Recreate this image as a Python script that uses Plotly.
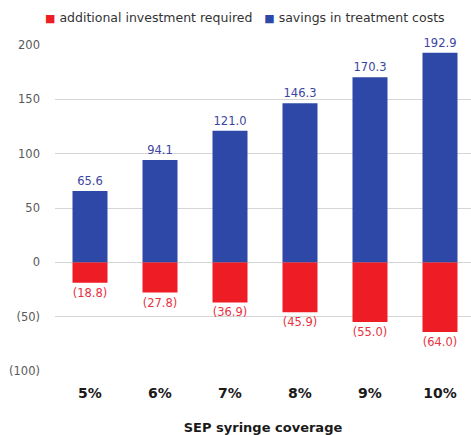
import plotly.graph_objects as go

categories = ["5%", "6%", "7%", "8%", "9%", "10%"]
investment = [-18.8, -27.8, -36.9, -45.9, -55.0, -64.0]
savings = [65.6, 94.1, 121.0, 146.3, 170.3, 192.9]
y_tickvals = [-100, -50, 0, 50, 100, 150, 200]
y_ticktext = ["(100)", "(50)", "0", "50", "100", "150", "200"]
series_names = ["additional investment required", "savings in treatment costs"]

FONT = "DejaVu Sans"
RED = "#EE1C25"
BLUE = "#2E48A8"

inv_text = ["({:.1f})".format(abs(v)) for v in investment]
sav_text = ["{:.1f}".format(v) for v in savings]

fig = go.Figure()
fig.add_trace(go.Bar(
    x=categories, y=investment, name=series_names[0],
    marker=dict(color=RED, line=dict(width=0)),
    text=inv_text, textposition="outside", cliponaxis=False,
    textfont=dict(family=FONT, size=11.5, color="#E8323F"),
))
fig.add_trace(go.Bar(
    x=categories, y=savings, name=series_names[1],
    marker=dict(color=BLUE, line=dict(width=0)),
    text=sav_text, textposition="outside", cliponaxis=False,
    textfont=dict(family=FONT, size=11.5, color="#3B45A0"),
))

legend_text = (
    "<span style='color:%s;font-size:11px'>■</span> %s   "
    "<span style='color:%s;font-size:11px'>■</span> %s"
    % (RED, series_names[0], BLUE, series_names[1])
)

fig.update_layout(
    width=471, height=435,
    margin=dict(l=55, r=0, t=45, b=64),
    barmode="relative", bargap=0.5,
    plot_bgcolor="white", paper_bgcolor="white",
    font=dict(family=FONT, color="#595959"),
    showlegend=False,
    annotations=[dict(
        text=legend_text, xref="paper", yref="paper",
        x=-0.03, xanchor="left", y=1.085, yanchor="middle",
        showarrow=False, font=dict(family=FONT, size=12.5, color="#333333"),
    )],
    xaxis=dict(
        range=[-0.5, 5.443], showgrid=False, showline=False, zeroline=False,
        tickfont=dict(family=FONT, size=14, color="#1a1a1a", weight="bold"),
        ticklabelstandoff=12,
        title=dict(text="SEP syringe coverage", standoff=22,
                   font=dict(family=FONT, size=13, color="#1a1a1a", weight="bold")),
    ),
    yaxis=dict(
        range=[-100, 200], tickvals=y_tickvals, ticktext=y_ticktext,
        showgrid=True, gridcolor="#D6D6D6", gridwidth=1,
        zeroline=True, zerolinecolor="#D6D6D6", zerolinewidth=1,
        showline=False,
        tickfont=dict(family=FONT, size=11.5, color="#595959"),
        ticklabelstandoff=14,
    ),
)

fig.write_html(
    "out.html",
    config={"displayModeBar": False},
    post_script="document.body.style.margin='0';document.body.style.overflow='hidden';",
)
